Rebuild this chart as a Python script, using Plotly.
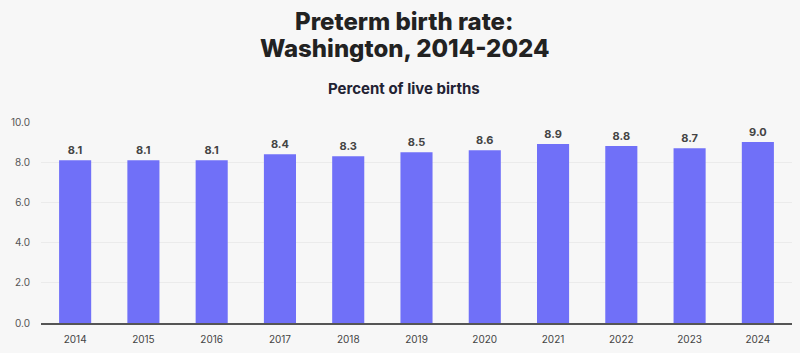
import plotly.graph_objects as go

years = ["2014", "2015", "2016", "2017", "2018", "2019", "2020", "2021", "2022", "2023", "2024"]
rates = [8.1, 8.1, 8.1, 8.4, 8.3, 8.5, 8.6, 8.9, 8.8, 8.7, 9.0]
y_ticks = [0, 2, 4, 6, 8, 10]

bg = "#f7f7f7"
W, H = 800, 353
ML, MR, MT, MB = 41, 8, 122, 30
ph = H - MT - MB
pw = W - ML - MR

def py(pix):
    return (H - MB - pix) / ph

def px(pix):
    return (pix - ML) / pw

title_font = dict(family="Inter", size=24, color="#222222", weight=800)

fig = go.Figure(go.Bar(
    x=years, y=rates,
    marker=dict(color="#7070f8", line=dict(width=0)),
    width=0.47,
    text=[f"{v:.1f}" for v in rates],
    textposition="outside",
    textfont=dict(family="Inter", size=11, color="#444444", weight="bold"),
    cliponaxis=False,
    hoverinfo="skip",
))

fig.update_layout(
    width=W, height=H,
    paper_bgcolor=bg, plot_bgcolor=bg,
    margin=dict(l=ML, r=MR, t=MT, b=MB),
    showlegend=False,
    annotations=[
        dict(text="Preterm birth rate:", x=px(404), y=py(5), xref="paper", yref="paper",
             yanchor="top", xanchor="center", showarrow=False, font=title_font),
        dict(text="Washington, 2014-2024", x=px(404), y=py(32), xref="paper", yref="paper",
             yanchor="top", xanchor="center", showarrow=False, font=title_font),
        dict(text="Percent of live births", x=px(404), y=py(77), xref="paper", yref="paper",
             yanchor="top", xanchor="center", showarrow=False,
             font=dict(family="Inter", size=15, color="#222233", weight=700)),
    ],
)
fig.update_xaxes(
    type="category", showgrid=False, showline=True, linecolor="#555555", linewidth=1.5,
    ticks="", tickfont=dict(family="Inter", size=10, color="#444444"), ticklabelstandoff=6,
)
fig.update_yaxes(
    range=[0, 10], tickvals=y_ticks, tickformat=".1f", showgrid=True, gridcolor="#ebebeb",
    zeroline=False, showline=False, ticks="",
    tickfont=dict(family="Inter", size=10, color="#555555"), ticklabelstandoff=10,
)

fig.write_html("out.html")
